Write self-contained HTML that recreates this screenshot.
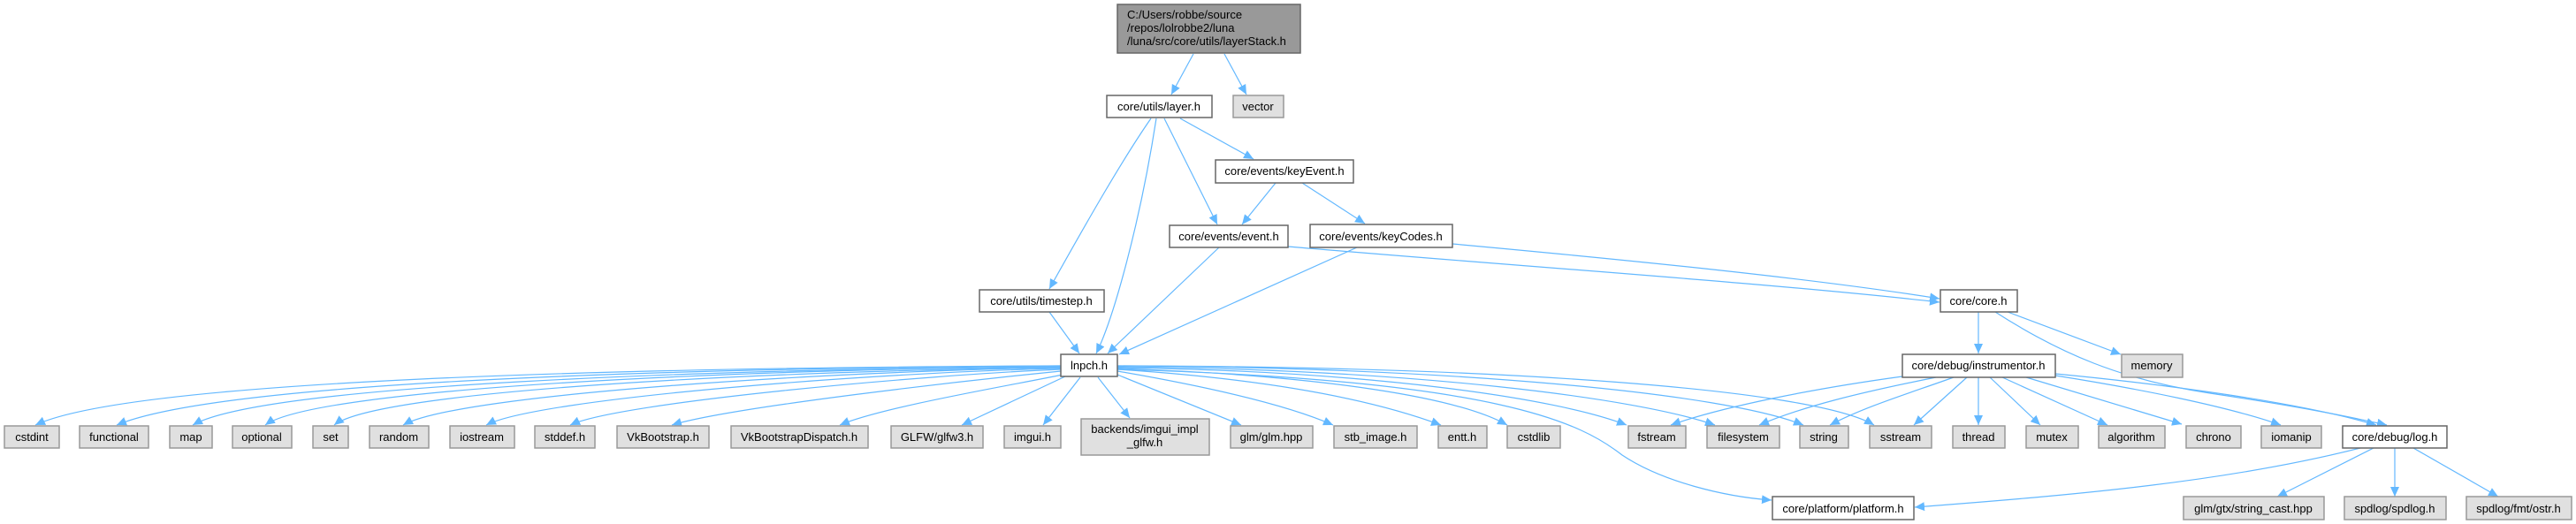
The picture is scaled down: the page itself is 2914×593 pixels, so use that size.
<!DOCTYPE html>
<html><head><meta charset="utf-8"><style>
html,body{margin:0;padding:0;background:#fff;}
svg{display:block;}
text{font-family:"Liberation Sans",Arial,sans-serif;font-size:13px;fill:#000;}
.w{fill:#fff;stroke:#666;stroke-width:1.5;}
.g{fill:#e0e0e0;stroke:#999;stroke-width:1.5;}
.r{fill:#999;stroke:#666;stroke-width:1.5;}
.e{fill:none;stroke:#63b8ff;stroke-width:1.2;marker-end:url(#a);}
</style></head><body>
<svg width="2914" height="593" viewBox="0 0 2914 593" xmlns="http://www.w3.org/2000/svg">
<defs><marker id="a" markerUnits="userSpaceOnUse" markerWidth="12" markerHeight="10" refX="11" refY="5" orient="auto"><path d="M0,0 L11,5 L0,10 z" fill="#63b8ff"/></marker></defs>
<g>
<path class="e" d="M1350,61 L1325,107"/>
<path class="e" d="M1385,61 L1410,107"/>
<path class="e" d="M1302,134 C1270,180 1230,250 1187,327" />
<path class="e" d="M1308,134 C1290,250 1260,360 1240,400"/>
<path class="e" d="M1317,134 L1377,254"/>
<path class="e" d="M1335,134 L1418,180"/>
<path class="e" d="M1443,207 L1405,254"/>
<path class="e" d="M1473,207 L1544,253"/>
<path class="e" d="M1379,280 L1253,400"/>
<path class="e" d="M1457,279 C1700,300 2000,320 2194,342"/>
<path class="e" d="M1535,280 L1266,401"/>
<path class="e" d="M1643,276 C1850,295 2050,315 2194,338"/>
<path class="e" d="M1187,353 L1221,400"/>
<path class="e" d="M2238,353 L2238,400"/>
<path class="e" d="M2271,353 L2399,401"/>
<path class="e" d="M2257,353 C2330,400 2400,430 2500,445 C2600,460 2650,470 2700,481"/>
<path class="e" d="M2152,426 C2050,440 1950,460 1890,481"/>
<path class="e" d="M2190,427 C2100,445 2040,460 1990,481"/>
<path class="e" d="M2210,427 C2160,445 2110,460 2070,481"/>
<path class="e" d="M2225,427 L2165,481"/>
<path class="e" d="M2238,427 L2238,481"/>
<path class="e" d="M2251,427 L2308,481"/>
<path class="e" d="M2265,427 L2384,481"/>
<path class="e" d="M2292,427 L2468,480"/>
<path class="e" d="M2325,425 C2420,440 2520,460 2580,481"/>
<path class="e" d="M2325,423 C2450,435 2600,455 2688,481"/>
<path class="e" d="M1200,414 C700,416 150,430 40,481"/>
<path class="e" d="M1200,414 C750,417 250,432 132,481"/>
<path class="e" d="M1200,415 C800,418 300,435 218,481"/>
<path class="e" d="M1200,415 C850,418 360,438 300,481"/>
<path class="e" d="M1200,416 C900,419 430,440 378,481"/>
<path class="e" d="M1200,416 C950,420 520,445 456,481"/>
<path class="e" d="M1200,417 C1000,421 610,450 550,481"/>
<path class="e" d="M1200,418 C1050,424 700,455 645,481"/>
<path class="e" d="M1200,420 C1100,430 830,460 760,481"/>
<path class="e" d="M1202,424 C1150,435 1000,460 950,481"/>
<path class="e" d="M1205,426 L1088,481"/>
<path class="e" d="M1222,427 L1180,481"/>
<path class="e" d="M1242,427 L1278,473"/>
<path class="e" d="M1264,424 L1404,481"/>
<path class="e" d="M1264,420 C1380,440 1460,460 1508,481"/>
<path class="e" d="M1264,418 C1450,430 1560,455 1630,481"/>
<path class="e" d="M1264,417 C1500,425 1650,450 1705,481"/>
<path class="e" d="M1264,416 C1550,420 1760,450 1840,481"/>
<path class="e" d="M1264,415 C1600,418 1850,450 1940,481"/>
<path class="e" d="M1264,414 C1650,416 1950,445 2040,481"/>
<path class="e" d="M1264,414 C1700,415 2050,440 2120,481"/>
<path class="e" d="M1264,418 C1700,430 1790,480 1835,515 C1880,545 1950,562 2004,566"/>
<path class="e" d="M2670,507 C2520,545 2350,560 2166,574"/>
<path class="e" d="M2685,507 L2576,562"/>
<path class="e" d="M2709,507 L2709,562"/>
<path class="e" d="M2730,507 L2826,562"/>
</g>
<g>
<rect class="r" x="1264" y="5" width="207" height="55"/>
<text x="1275" y="21">C:/Users/robbe/source</text>
<text x="1275" y="36">/repos/lolrobbe2/luna</text>
<text x="1275" y="51">/luna/src/core/utils/layerStack.h</text>
<rect class="w" x="1252" y="108" width="119" height="25"/><text x="1311" y="125" text-anchor="middle">core/utils/layer.h</text>
<rect class="g" x="1395" y="108" width="57" height="25"/><text x="1423" y="125" text-anchor="middle">vector</text>
<rect class="w" x="1375" y="181" width="156" height="26"/><text x="1453" y="198" text-anchor="middle">core/events/keyEvent.h</text>
<rect class="w" x="1323" y="255" width="134" height="25"/><text x="1390" y="272" text-anchor="middle">core/events/event.h</text>
<rect class="w" x="1482" y="254" width="161" height="26"/><text x="1562" y="272" text-anchor="middle">core/events/keyCodes.h</text>
<rect class="w" x="1108" y="328" width="141" height="25"/><text x="1178" y="345" text-anchor="middle">core/utils/timestep.h</text>
<rect class="w" x="2195" y="328" width="87" height="25"/><text x="2238" y="345" text-anchor="middle">core/core.h</text>
<rect class="w" x="1200" y="401" width="64" height="25"/><text x="1232" y="418" text-anchor="middle">lnpch.h</text>
<rect class="w" x="2152" y="401" width="173" height="26"/><text x="2238" y="418" text-anchor="middle">core/debug/instrumentor.h</text>
<rect class="g" x="2400" y="401" width="69" height="26"/><text x="2434" y="418" text-anchor="middle">memory</text>
</g>
<g>
<rect class="g" x="5" y="482" width="62" height="25"/><text x="36" y="499" text-anchor="middle">cstdint</text>
<rect class="g" x="90" y="482" width="78" height="25"/><text x="129" y="499" text-anchor="middle">functional</text>
<rect class="g" x="192" y="482" width="48" height="25"/><text x="216" y="499" text-anchor="middle">map</text>
<rect class="g" x="263" y="482" width="67" height="25"/><text x="296" y="499" text-anchor="middle">optional</text>
<rect class="g" x="354" y="482" width="40" height="25"/><text x="374" y="499" text-anchor="middle">set</text>
<rect class="g" x="418" y="482" width="67" height="25"/><text x="451" y="499" text-anchor="middle">random</text>
<rect class="g" x="509" y="482" width="73" height="25"/><text x="545" y="499" text-anchor="middle">iostream</text>
<rect class="g" x="605" y="482" width="68" height="25"/><text x="639" y="499" text-anchor="middle">stddef.h</text>
<rect class="g" x="698" y="482" width="104" height="25"/><text x="750" y="499" text-anchor="middle">VkBootstrap.h</text>
<rect class="g" x="827" y="482" width="155" height="25"/><text x="904" y="499" text-anchor="middle">VkBootstrapDispatch.h</text>
<rect class="g" x="1008" y="482" width="104" height="25"/><text x="1060" y="499" text-anchor="middle">GLFW/glfw3.h</text>
<rect class="g" x="1136" y="482" width="64" height="25"/><text x="1168" y="499" text-anchor="middle">imgui.h</text>
<rect class="g" x="1223" y="474" width="145" height="41"/><text x="1295" y="490" text-anchor="middle">backends/imgui_impl</text><text x="1295" y="505" text-anchor="middle">_glfw.h</text>
<rect class="g" x="1392" y="482" width="93" height="25"/><text x="1438" y="499" text-anchor="middle">glm/glm.hpp</text>
<rect class="g" x="1509" y="482" width="94" height="25"/><text x="1556" y="499" text-anchor="middle">stb_image.h</text>
<rect class="g" x="1627" y="482" width="55" height="25"/><text x="1654" y="499" text-anchor="middle">entt.h</text>
<rect class="g" x="1705" y="482" width="60" height="25"/><text x="1735" y="499" text-anchor="middle">cstdlib</text>
<rect class="g" x="1842" y="482" width="65" height="25"/><text x="1874" y="499" text-anchor="middle">fstream</text>
<rect class="g" x="1931" y="482" width="82" height="25"/><text x="1972" y="499" text-anchor="middle">filesystem</text>
<rect class="g" x="2036" y="482" width="55" height="25"/><text x="2063" y="499" text-anchor="middle">string</text>
<rect class="g" x="2115" y="482" width="70" height="25"/><text x="2150" y="499" text-anchor="middle">sstream</text>
<rect class="g" x="2209" y="482" width="59" height="25"/><text x="2238" y="499" text-anchor="middle">thread</text>
<rect class="g" x="2292" y="482" width="59" height="25"/><text x="2321" y="499" text-anchor="middle">mutex</text>
<rect class="g" x="2374" y="482" width="75" height="25"/><text x="2411" y="499" text-anchor="middle">algorithm</text>
<rect class="g" x="2473" y="482" width="62" height="25"/><text x="2504" y="499" text-anchor="middle">chrono</text>
<rect class="g" x="2558" y="482" width="68" height="25"/><text x="2592" y="499" text-anchor="middle">iomanip</text>
<rect class="w" x="2650" y="482" width="118" height="25"/><text x="2709" y="499" text-anchor="middle">core/debug/log.h</text>
<rect class="w" x="2005" y="562" width="160" height="26"/><text x="2085" y="580" text-anchor="middle">core/platform/platform.h</text>
<rect class="g" x="2470" y="562" width="159" height="26"/><text x="2549" y="580" text-anchor="middle">glm/gtx/string_cast.hpp</text>
<rect class="g" x="2652" y="562" width="115" height="26"/><text x="2709" y="580" text-anchor="middle">spdlog/spdlog.h</text>
<rect class="g" x="2790" y="562" width="119" height="26"/><text x="2849" y="580" text-anchor="middle">spdlog/fmt/ostr.h</text>
</g>
</svg>
</body></html>
